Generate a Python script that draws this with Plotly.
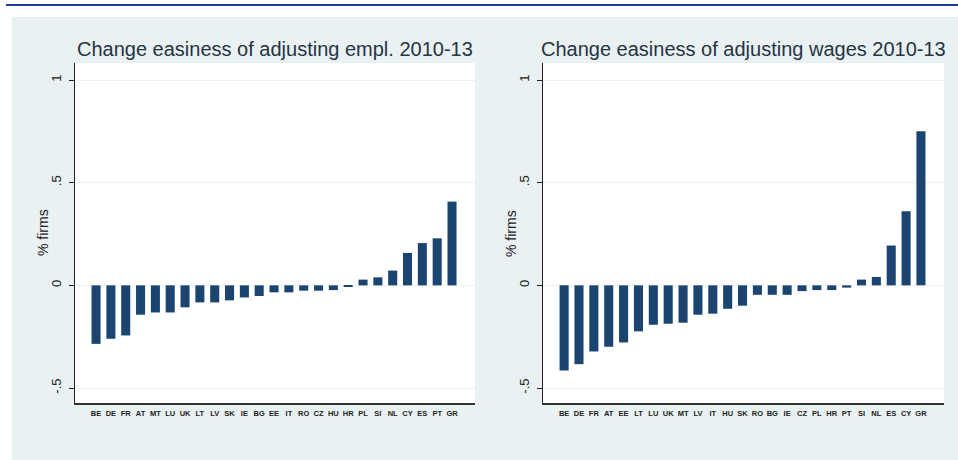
import plotly.graph_objects as go

W, H = 958, 460

empl_countries = ["BE", "DE", "FR", "AT", "MT", "LU", "UK", "LT", "LV", "SK", "IE", "BG", "EE",
                  "IT", "RO", "CZ", "HU", "HR", "PL", "SI", "NL", "CY", "ES", "PT", "GR"]
empl_values = [-0.285, -0.26, -0.244, -0.143, -0.132, -0.132, -0.107, -0.083, -0.083, -0.073,
               -0.059, -0.052, -0.034, -0.034, -0.026, -0.026, -0.023, -0.004, 0.028, 0.039,
               0.072, 0.158, 0.206, 0.229, 0.408]

wage_countries = ["BE", "DE", "FR", "AT", "EE", "LT", "LU", "UK", "MT", "LV", "IT", "HU", "SK",
                  "RO", "BG", "IE", "CZ", "PL", "HR", "PT", "SI", "NL", "ES", "CY", "GR"]
wage_values = [-0.415, -0.384, -0.322, -0.299, -0.278, -0.224, -0.192, -0.187, -0.182, -0.143,
               -0.138, -0.114, -0.099, -0.046, -0.046, -0.046, -0.028, -0.023, -0.023, -0.011,
               0.028, 0.041, 0.194, 0.361, 0.751]

titles = ["Change easiness of adjusting empl. 2010-13",
          "Change easiness of adjusting wages 2010-13"]
y_tickvals = [-0.5, 0, 0.5, 1]
y_ticktext = ["-.5", "0", ".5", "1"]
y_title = "% firms"

BAR = "#1b4570"
PANEL = "#e9f1f3"
GRID = "#e9f1f3"
FONT = "Liberation Sans, Arial, sans-serif"

def px_x(v):
    return v / W

def px_y(v):
    return 1 - v / H

fig = go.Figure()
fig.add_trace(go.Bar(x=empl_countries, y=empl_values, marker=dict(color=BAR, line=dict(width=0)),
                     xaxis="x", yaxis="y", showlegend=False))
fig.add_trace(go.Bar(x=wage_countries, y=wage_values, marker=dict(color=BAR, line=dict(width=0)),
                     xaxis="x2", yaxis="y2", showlegend=False))

ydom = [px_y(403), px_y(63)]
xdoms = [[px_x(75), px_x(475)], [px_x(543), px_x(944)]]
yrange = [-0.573, 1.083]

def xaxis_cfg(dom, n, anchor):
    return dict(domain=dom, anchor=anchor, type="category", range=[-1.42, n - 1 + 1.55],
                showline=True, linecolor="#333333", linewidth=2, ticks="",
                tickangle=0, tickfont=dict(size=7.5, family=FONT, color="#222222", weight="bold"),
                showgrid=False, zeroline=False, fixedrange=True, ticklabelstandoff=2)

def yaxis_cfg(anchor):
    return dict(domain=ydom, anchor=anchor, range=yrange, tickvals=y_tickvals, ticktext=y_ticktext,
                tickangle=-90, ticks="outside", ticklen=5, tickcolor="#222222", tickwidth=1,
                showline=True, linecolor="#222222", linewidth=1,
                showgrid=True, gridcolor=GRID, gridwidth=1, zeroline=False,
                tickfont=dict(size=13, family=FONT, color="#222222"), ticklabelstandoff=3)

fig.update_layout(
    width=W, height=H,
    margin=dict(l=0, r=0, t=0, b=0),
    paper_bgcolor=PANEL,
    plot_bgcolor="white",
    bargap=0.39,
    xaxis=xaxis_cfg(xdoms[0], len(empl_countries), "y"),
    yaxis=yaxis_cfg("x"),
    xaxis2=xaxis_cfg(xdoms[1], len(wage_countries), "y2"),
    yaxis2=yaxis_cfg("x2"),
    font=dict(family=FONT),
)

shapes = [
    dict(type="rect", xref="paper", yref="paper", x0=0, x1=1, y0=px_y(17), y1=1,
         fillcolor="white", line=dict(width=0), layer="below"),
    dict(type="rect", xref="paper", yref="paper", x0=0, x1=px_x(12), y0=0, y1=1,
         fillcolor="white", line=dict(width=0), layer="below"),
    dict(type="line", xref="paper", yref="paper", x0=px_x(6), x1=1, y0=px_y(5), y1=px_y(5),
         line=dict(color="#1f3d96", width=2)),
]
fig.update_layout(shapes=shapes)

annotations = []
for dom, t in zip(xdoms, titles):
    annotations.append(dict(text=t, xref="paper", yref="paper", x=(dom[0] + dom[1]) / 2,
                            y=px_y(49), xanchor="center", yanchor="middle", showarrow=False,
                            font=dict(size=20, family=FONT, color="#263443")))
for xp in [43, 511]:
    annotations.append(dict(text=y_title, xref="paper", yref="paper", x=px_x(xp),
                            y=(ydom[0] + ydom[1]) / 2, xanchor="center", yanchor="middle",
                            textangle=-90, showarrow=False,
                            font=dict(size=14, family=FONT, color="#222222")))
fig.update_layout(annotations=annotations)

fig.write_html("out.html", config={"displayModeBar": False},
               post_script="document.body.style.margin='0';")
